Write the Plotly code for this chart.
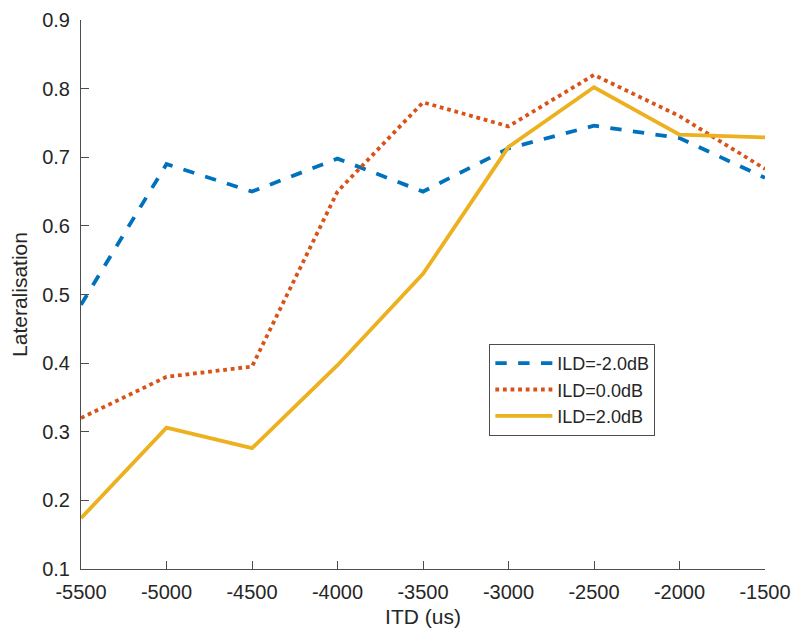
import plotly.graph_objects as go

itd = [-5500, -5000, -4500, -4000, -3500, -3000, -2500, -2000, -1500]
ild_m2 = [0.485, 0.690, 0.650, 0.698, 0.650, 0.713, 0.746, 0.728, 0.670]
ild_0 = [0.320, 0.380, 0.395, 0.650, 0.780, 0.745, 0.820, 0.760, 0.683]
ild_p2 = [0.174, 0.306, 0.276, 0.397, 0.530, 0.715, 0.802, 0.733, 0.729]
names = ["ILD=-2.0dB", "ILD=0.0dB", "ILD=2.0dB"]
x_ticks = [-5500, -5000, -4500, -4000, -3500, -3000, -2500, -2000, -1500]
y_ticks = [0.1, 0.2, 0.3, 0.4, 0.5, 0.6, 0.7, 0.8, 0.9]

FONT = "Liberation Sans, Arial, Helvetica"

fig = go.Figure()
fig.add_trace(go.Scatter(x=itd, y=ild_m2, mode="lines", name=names[0],
                         line=dict(color="#0072BD", width=3.8, dash="dash")))
fig.add_trace(go.Scatter(x=itd, y=ild_0, mode="lines", name=names[1],
                         line=dict(color="#D95319", width=3.8, dash="dot")))
fig.add_trace(go.Scatter(x=itd, y=ild_p2, mode="lines", name=names[2],
                         line=dict(color="#EDB120", width=3.8)))

axis_common = dict(showgrid=False, zeroline=False, showline=True, linecolor="#4d4d4d",
                   linewidth=1, ticks="inside", ticklen=8, tickcolor="#4d4d4d",
                   automargin=False,
                   tickfont=dict(family=FONT, size=20, color="#262626"))
fig.update_xaxes(range=[-5500, -1500], tickvals=x_ticks, ticktext=[str(v) for v in x_ticks],
                 ticklabelstandoff=5,
                 title=dict(text="ITD (us)", font=dict(family=FONT, size=21, color="#262626"), standoff=7),
                 **axis_common)
fig.update_yaxes(range=[0.1, 0.9], tickvals=y_ticks, ticktext=[f"{v:.1f}" for v in y_ticks],
                 ticklabelstandoff=6,
                 title=dict(text="Lateralisation", font=dict(family=FONT, size=21, color="#262626"), standoff=12),
                 **axis_common)
fig.update_layout(
    width=800, height=643,
    margin=dict(l=73, r=43, t=12, b=82),
    plot_bgcolor="white", paper_bgcolor="white",
    font=dict(family=FONT, color="#262626"),
    legend=dict(x=0.597, y=0.41, xanchor="left", yanchor="top",
                bordercolor="#4d4d4d", borderwidth=1, bgcolor="white",
                itemwidth=57, entrywidth=190, entrywidthmode="pixels",
                font=dict(family=FONT, size=18, color="#262626"), tracegroupgap=0),
    showlegend=True,
)
fig.write_html("out.html")
